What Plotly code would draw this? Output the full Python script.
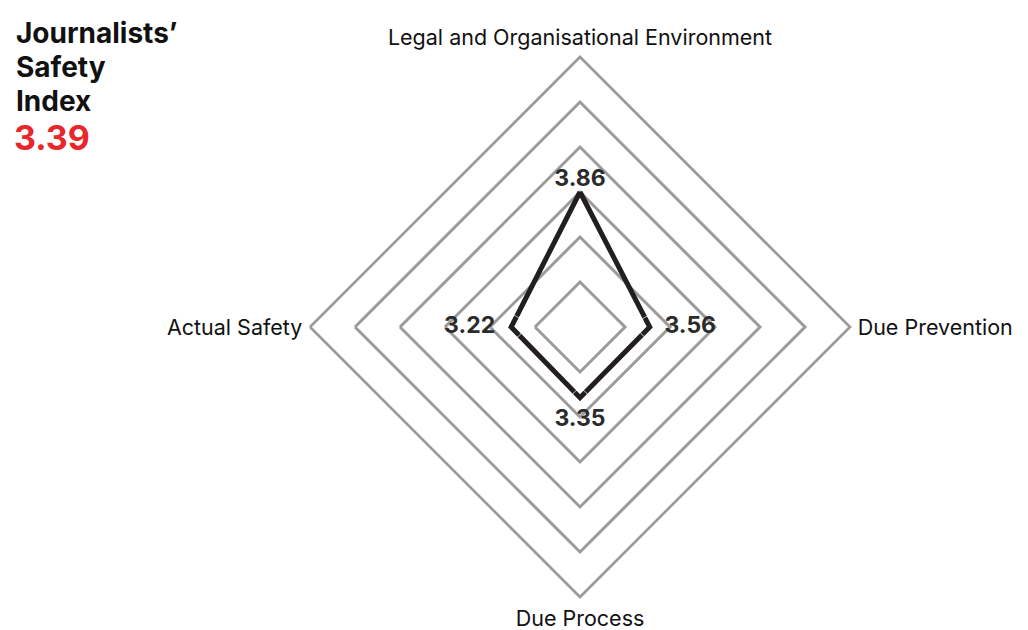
import plotly.graph_objects as go

categories = ["Legal and Organisational Environment", "Due Prevention", "Due Process", "Actual Safety"]
scores = [3.86, 3.56, 3.35, 3.22]
# radial position of each vertex as drawn on the 6-ring grid
plot_r = [3.0, 1.55, 1.57, 1.53]
ring_vals = [1, 2, 3, 4, 5, 6]
index_value = 3.39
title_lines = ["Journalists’", "Safety", "Index"]

W, H = 1020, 622
OFF = 8  # page offset of the figure in the browser
cx, cy, R = 580 - OFF, 327 - OFF, 270

fig = go.Figure()
fig.add_trace(go.Scatterpolar(
    r=plot_r + plot_r[:1], theta=categories + categories[:1],
    mode="lines", line=dict(color="#231f20", width=5),
    hoverinfo="skip", showlegend=False,
))
fig.add_trace(go.Scatterpolar(
    r=plot_r, theta=categories,
    mode="markers+text", text=[f"{v:.2f}" for v in scores],
    textposition=["top center", "middle right", "bottom center", "middle left"],
    marker=dict(size=[0, 22, 16, 24], color="rgba(0,0,0,0)"),
    textfont=dict(family="Inter", size=23, color="#2b2b2b", weight="bold"),
    hoverinfo="skip", showlegend=False,
))

annotations = []
for i, line in enumerate(title_lines):
    annotations.append(dict(
        x=(14 - OFF) / W, y=1 - (33 + 34 * i - OFF) / H, xref="paper", yref="paper",
        xanchor="left", yanchor="middle", showarrow=False,
        text=f"<b>{line}</b>", font=dict(family="Inter", size=28, color="#111")))
annotations.append(dict(
    x=(12 - OFF) / W, y=1 - (137 - OFF) / H, xref="paper", yref="paper",
    xanchor="left", yanchor="middle", showarrow=False,
    text=f"<b>{index_value:.2f}</b>", font=dict(family="Inter", size=34, color="#e8262b")))

fig.update_layout(
    width=W, height=H,
    margin=dict(l=0, r=0, t=0, b=0),
    paper_bgcolor="white", plot_bgcolor="white",
    font=dict(family="Inter", color="#111"),
    polar=dict(
        domain=dict(x=[(cx - R) / W, (cx + R) / W], y=[1 - (cy + R) / H, 1 - (cy - R) / H]),
        gridshape="linear",
        bgcolor="white",
        radialaxis=dict(range=[0, 6], tickvals=ring_vals, showticklabels=False, ticks="",
                        showline=False, gridcolor="#9b9b9b", gridwidth=2.7),
        angularaxis=dict(rotation=90, direction="clockwise", showgrid=False,
                         showline=True, linecolor="#9b9b9b", linewidth=2.7,
                         ticks="outside", ticklen=2, tickcolor="rgba(0,0,0,0)",
                         tickfont=dict(family="Inter", size=21.5, color="#111")),
    ),
    annotations=annotations,
)

fig.write_html("out.html")
